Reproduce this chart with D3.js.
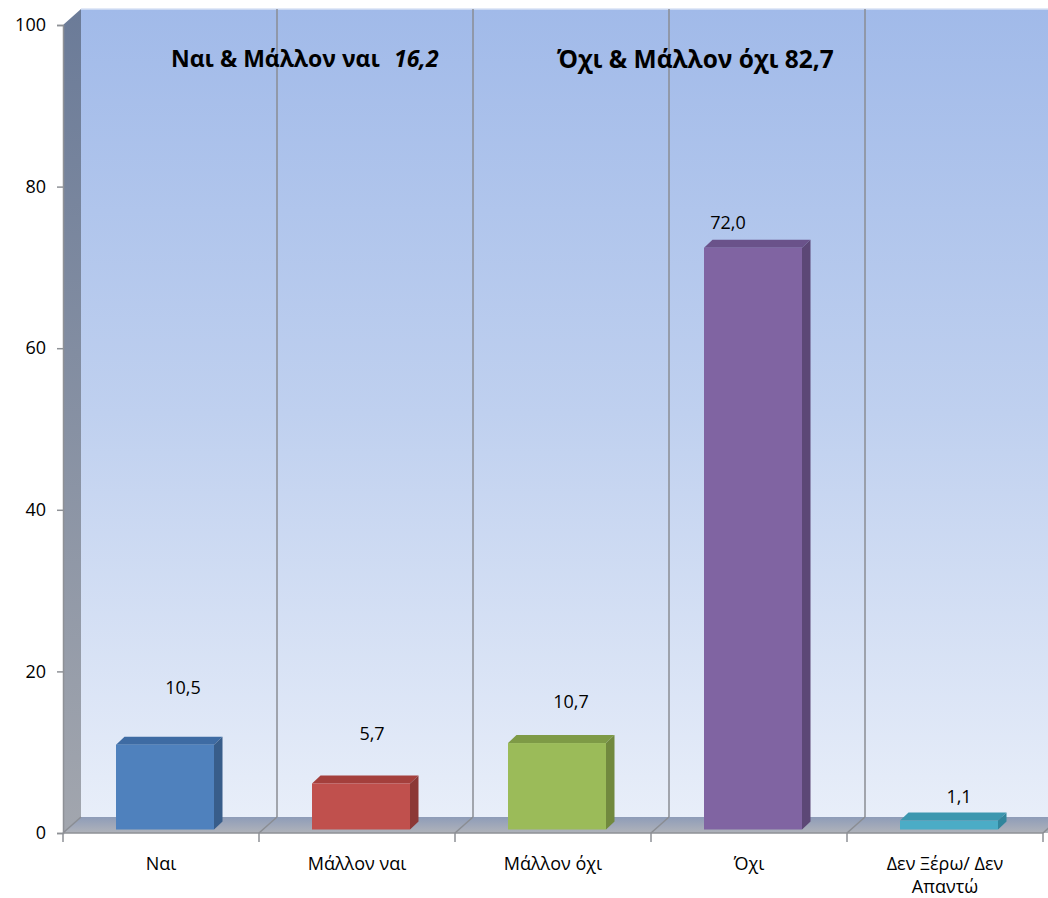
<!DOCTYPE html>
<html><head><meta charset="utf-8">
<script src="https://cdnjs.cloudflare.com/ajax/libs/d3/7.8.5/d3.min.js"></script>
<style>
body{margin:0;background:#fff;}
svg{display:block;font-family:"Open Sans","Noto Sans",sans-serif;}
</style></head>
<body>
<svg id="c" width="1048" height="898"></svg>
<script>
// ---- data ----
const categories = ["Ναι", "Μάλλον ναι", "Μάλλον όχι", "Όχι", "Δεν Ξέρω/ Δεν Απαντώ"];
const values = [10.5, 5.7, 10.7, 72.0, 1.1];
const yTicks = [0, 20, 40, 60, 80, 100];
const frontColors = ["#4F81BD", "#C0504D", "#9BBB59", "#8064A2", "#4BACC6"];
const sideColors  = ["#385D8A", "#8C3836", "#71893E", "#5C4776", "#31859C"];
const topColors   = ["#3E6BA3", "#A43F3C", "#7E9A46", "#6A528A", "#3C97AF"];
const annoLeft = "Ναι & Μάλλον ναι";
const annoLeftValue = "16,2";
const annoRight = "Όχι & Μάλλον όχι 82,7";

// ---- layout (not data) ----
const W = 1048, H = 898;
const x0 = 63, x1 = 1043, yBase = 833, yTopV = 25;
const DX = 18, DY = -16;           // wall depth
const fDX = 4, fDY = -3.5;         // bar front face offset into depth
const bDX = 8.5, bDY = -8;         // bar depth
const labelNudge = [[18,-57],[11,-50],[14,-41],[-25,-25],[10,-24]];

const svg = d3.select("#c");
const defs = svg.append("defs");
function lg(id, stops, vertical=true){
  const g = defs.append("linearGradient").attr("id", id)
    .attr("x1",0).attr("y1",0).attr("x2", vertical?0:1).attr("y2", vertical?1:0);
  stops.forEach(s=>g.append("stop").attr("offset",s[0]).attr("stop-color",s[1]));
}
lg("wall", [[0,"#A1BAE9"],[0.5,"#BFD0EF"],[1,"#E8EEF9"]]);
lg("lwall", [[0,"#6B7B98"],[1,"#A2A6AE"]]);
lg("floor", [[0,"#8E9CB8"],[1,"#B0B3BA"]]);

const x = d3.scaleBand().domain(categories).range([x0, x1]).padding(0);
const y = d3.scaleLinear().domain([0, 100]).range([yBase, yTopV]);
const bw = x.bandwidth() * 0.5;

// back wall
svg.append("rect").attr("x", x0+DX).attr("y", y(100)+DY)
  .attr("width", W - (x0+DX)).attr("height", y(0) - y(100))
  .attr("fill", "url(#wall)");
svg.append("line").attr("x1", x0+DX).attr("x2", W).attr("y1", y(100)+DY).attr("y2", y(100)+DY)
  .attr("stroke", "#D8E2F4").attr("stroke-width", 1.5);
// left wall
svg.append("polygon")
  .attr("points", [[x0, y(100)], [x0+DX, y(100)+DY], [x0+DX, y(0)+DY], [x0, y(0)]].join(" "))
  .attr("fill", "url(#lwall)");
// floor
svg.append("polygon")
  .attr("points", [[x0, y(0)], [x0+DX, y(0)+DY], [W, y(0)+DY], [W, y(0)], [x1, y(0)]].join(" "))
  .attr("fill", "url(#floor)");

// category boundaries
const bounds = categories.map(c => x(c)).concat([x1]);
svg.append("g").selectAll("line").data(bounds.slice(1, 5)).join("line")
  .attr("x1", d => d+DX).attr("x2", d => d+DX)
  .attr("y1", y(100)+DY).attr("y2", y(0)+DY)
  .attr("stroke", "#8A8D93").attr("stroke-width", 1.5);
svg.append("g").selectAll("line").data(bounds).join("line")
  .attr("x1", d => d).attr("x2", d => d+DX)
  .attr("y1", y(0)).attr("y2", y(0)+DY)
  .attr("stroke", "#8A8D93").attr("stroke-width", 1.5);
svg.append("line").attr("x1", x0).attr("x2", x1).attr("y1", y(0)).attr("y2", y(0))
  .attr("stroke", "#8E9196").attr("stroke-width", 1.5);
svg.append("g").selectAll("line").data(bounds).join("line")
  .attr("x1", d => d).attr("x2", d => d)
  .attr("y1", y(0)).attr("y2", y(0)+9)
  .attr("stroke", "#8E9196").attr("stroke-width", 1.5);

// y axis
const ya = svg.append("g").attr("transform", `translate(${x0},0)`)
  .call(d3.axisLeft(y).tickValues(yTicks).tickSize(6).tickPadding(11).tickFormat(d3.format("d")));
ya.select(".domain").attr("stroke", "#8E9196").attr("stroke-width", 1.5);
ya.selectAll(".tick line").attr("stroke", "#8E9196").attr("stroke-width", 1.5);
ya.selectAll(".tick text").attr("font-size", 18).attr("fill", "#000")
  .attr("font-family", "'Open Sans', sans-serif");

// bars
const bars = svg.append("g");
categories.forEach((c, i) => {
  const cx = x(c) + x.bandwidth()/2 + fDX;
  const L = cx - bw/2, R = cx + bw/2;
  const yb = y(0) + fDY, yt = y(values[i]) + fDY;
  const g = bars.append("g");
  g.append("polygon").attr("points", [[L,yt],[L+bDX,yt+bDY],[R+bDX,yt+bDY],[R,yt]].join(" "))
    .attr("fill", topColors[i]);
  g.append("polygon").attr("points", [[R,yt],[R+bDX,yt+bDY],[R+bDX,yb+bDY],[R,yb]].join(" "))
    .attr("fill", sideColors[i]);
  g.append("rect").attr("x", L).attr("y", yt).attr("width", bw).attr("height", yb - yt)
    .attr("fill", frontColors[i]);
});

// value labels
const fmt = v => d3.format(".1f")(v).replace(".", ",");
svg.append("g").selectAll("text").data(values).join("text")
  .attr("x", (d, i) => x(categories[i]) + x.bandwidth()/2 + fDX + labelNudge[i][0])
  .attr("y", (d, i) => y(d) + fDY + labelNudge[i][1])
  .attr("dy", "0.35em").attr("text-anchor", "middle")
  .attr("font-size", 18).attr("fill", "#000")
  .text(fmt);

// category labels
const cl = svg.append("g").selectAll("text").data(categories).join("text")
  .attr("x", d => x(d) + x.bandwidth()/2)
  .attr("y", y(0) + 37)
  .attr("text-anchor", "middle").attr("font-size", 18).attr("fill", "#000");
cl.each(function(d){
  const t = d3.select(this);
  const words = d.split(" ");
  let line = [], lines = [];
  const tmp = t.append("tspan");
  words.forEach(w => {
    line.push(w);
    tmp.text(line.join(" "));
    if (tmp.node().getComputedTextLength() > 150 && line.length > 1) {
      line.pop(); lines.push(line.join(" ")); line = [w];
    }
  });
  lines.push(line.join(" "));
  tmp.remove();
  lines.forEach((l, k) => t.append("tspan").attr("x", t.attr("x")).attr("dy", k ? 23 : 0).text(l));
});

// annotations
const a1 = svg.append("text").attr("x", 171).attr("y", 67)
  .attr("font-size", 23).attr("font-weight", "bold").attr("fill", "#000");
a1.append("tspan").text(annoLeft);
a1.append("tspan").attr("x", 394).attr("font-style", "italic").text(annoLeftValue);
svg.append("text").attr("x", 557).attr("y", 68)
  .attr("font-size", 24.5).attr("font-weight", "bold").attr("fill", "#000")
  .text(annoRight);
</script>
</body></html>
